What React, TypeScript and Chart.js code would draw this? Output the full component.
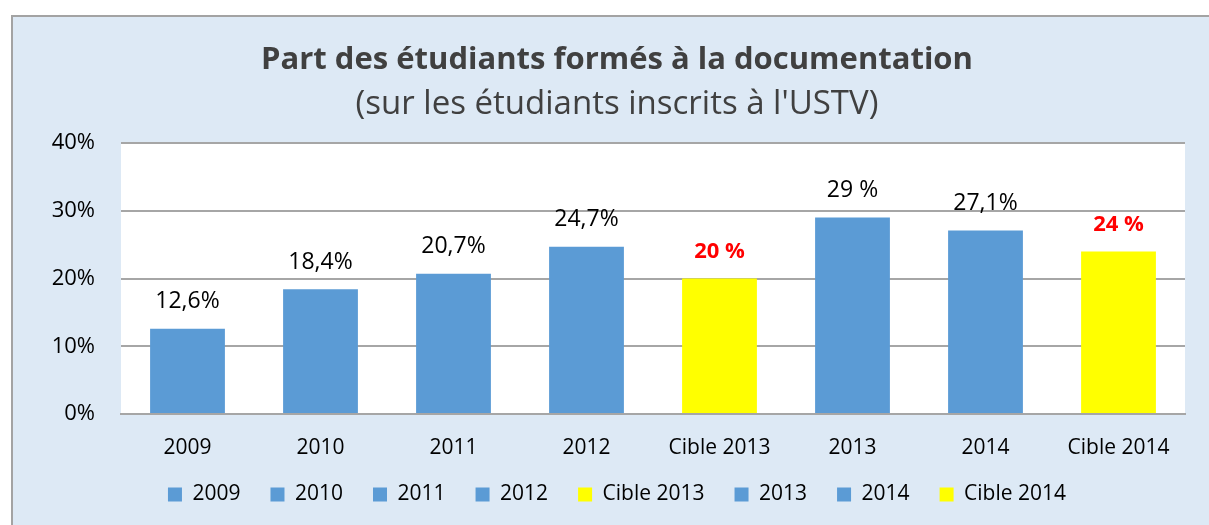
import React, { useEffect, useRef } from "react";
import { Chart, registerables } from "chart.js";

Chart.register(...registerables);

const categories = ["2009", "2010", "2011", "2012", "Cible 2013", "2013", "2014", "Cible 2014"];
const values = [12.6, 18.4, 20.7, 24.7, 20, 29, 27.1, 24];
const valueLabels = ["12,6%", "18,4%", "20,7%", "24,7%", "20 %", "29 %", "27,1%", "24 %"];
const isTarget = [false, false, false, false, true, false, false, true];
const yTicks = [0, 10, 20, 30, 40];

const BLUE = "#5b9bd5";
const YELLOW = "#ffff00";
const FONT = "'Open Sans'";

const TITLE_SIZE = 31;
const SUB_SIZE = 33;

export default function App() {
  const ref = useRef<HTMLCanvasElement | null>(null);

  useEffect(() => {
    if (!ref.current) return;
    const colors = isTarget.map((t) => (t ? YELLOW : BLUE));

    const plotBg = {
      id: "plotBg",
      beforeDraw(chart: any) {
        const { ctx, chartArea } = chart;
        ctx.save();
        ctx.fillStyle = "#ffffff";
        ctx.fillRect(chartArea.left, chartArea.top, chartArea.right - chartArea.left, chartArea.bottom - chartArea.top);
        ctx.restore();
      },
    };

    const valueLabelPlugin = {
      id: "valueLabels",
      afterDatasetsDraw(chart: any) {
        const { ctx } = chart;
        const meta = chart.getDatasetMeta(0);
        ctx.save();
        ctx.textAlign = "center";
        ctx.textBaseline = "middle";
        meta.data.forEach((bar: any, i: number) => {
          if (isTarget[i]) {
            ctx.fillStyle = "#ff0000";
            ctx.font = `bold 22px ${FONT}`;
          } else {
            ctx.fillStyle = "#000000";
            ctx.font = `23px ${FONT}`;
          }
          ctx.fillText(valueLabels[i], bar.x, bar.y - 27);
        });
        ctx.restore();
      },
    };

    const chart = new Chart(ref.current, {
      type: "bar",
      data: {
        labels: categories,
        datasets: [
          {
            label: "Part",
            data: values,
            backgroundColor: colors,
            borderWidth: 0,
            categoryPercentage: 1,
            barPercentage: 0.5625,
          },
        ],
      },
      options: {
        animation: false,
        responsive: false,
        layout: { padding: { left: 36, right: 24, top: 0, bottom: 10 } },
        scales: {
          x: {
            grid: { display: false, drawTicks: false },
            border: { display: true, color: "#a6a6a6", width: 2 },
            ticks: { color: "#000000", font: { family: FONT, size: 21 }, padding: 21, maxRotation: 0 },
            afterFit(scale: any) {
              scale.height = 40;
            },
          },
          y: {
            min: 0,
            max: 40,
            afterBuildTicks(scale: any) {
              scale.ticks = yTicks.map((v) => ({ value: v }));
            },
            grid: { color: "#a6a6a6", lineWidth: 2, drawTicks: false },
            border: { display: false },
            ticks: {
              color: "#000000",
              font: { family: FONT, size: 22 },
              padding: 26,
              callback: (v: any) => `${v}%`,
            },
            afterFit(scale: any) {
              scale.width = 72;
            },
          },
        },
        plugins: {
          title: {
            display: true,
            text: "Part des étudiants formés à la documentation",
            color: "#404040",
            font: { family: FONT, size: TITLE_SIZE, weight: "bold", lineHeight: 1.2 },
            padding: { top: 43 - 0.6 * TITLE_SIZE, bottom: 45 - 0.6 * SUB_SIZE - 0.6 * TITLE_SIZE },
          },
          subtitle: {
            display: true,
            text: "(sur les étudiants inscrits à l'USTV)",
            color: "#404040",
            font: { family: FONT, size: SUB_SIZE, weight: "normal", lineHeight: 1.2 },
            padding: { top: 0, bottom: 38 - 0.6 * SUB_SIZE },
          },
          legend: {
            position: "bottom",
            onClick: () => {},
            labels: {
              color: "#000000",
              font: { family: FONT, size: 21 },
              boxWidth: 14,
              boxHeight: 14,
              padding: 30,
              generateLabels: () =>
                categories.map((c, i) => ({
                  text: c,
                  fillStyle: colors[i],
                  strokeStyle: colors[i],
                  lineWidth: 0,
                  hidden: false,
                  index: i,
                  datasetIndex: 0,
                  fontColor: "#000000",
                })),
            },
          },
          tooltip: { enabled: false },
        },
      },
      plugins: [plotBg, valueLabelPlugin],
    } as any);

    return () => chart.destroy();
  }, []);

  return (
    <div
      style={{
        position: "absolute",
        left: 11,
        top: 15,
        width: 1196,
        height: 508,
        borderTop: "2px solid #a3a3a3",
        borderLeft: "2px solid #a3a3a3",
        background: "#dde9f5",
      }}
    >
      <canvas ref={ref} width={1196} height={508} style={{ display: "block" }} />
    </div>
  );
}
